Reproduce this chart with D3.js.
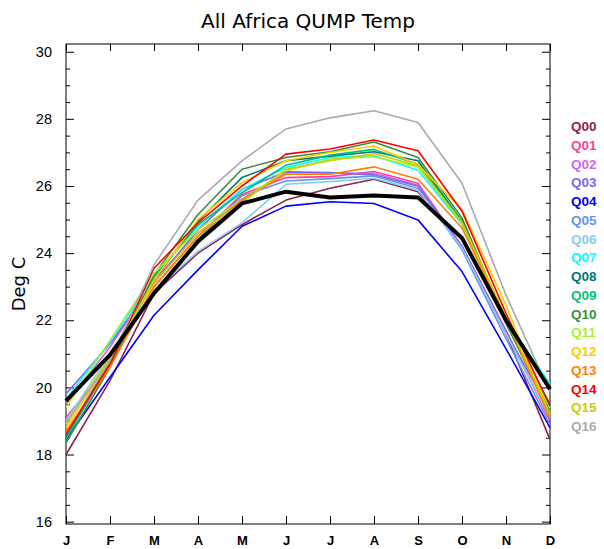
<!DOCTYPE html>
<html><head><meta charset="utf-8">
<script src="https://cdn.jsdelivr.net/npm/d3@7"></script>
<style>body{margin:0;background:#fff;} svg{display:block;}</style>
</head><body>
<script>
const months = ["J","F","M","A","M","J","J","A","S","O","N","D"];
const seriesNames = ["Q00","Q01","Q02","Q03","Q04","Q05","Q06","Q07","Q08","Q09","Q10","Q11","Q12","Q13","Q14","Q15","Q16"];
const seriesColors = ["#8B2252","#FF3E96","#CC66EE","#7B68EE","#0000FF","#6495ED","#87CEEB","#00FFFF","#007878","#00C080","#3A8E3A","#ADEE2F","#FFCC00","#FF7F00","#FF0000","#CCCC00","#AAAAAA"];
const Q00 = [18.0, 20.2, 22.8, 24.0, 24.85, 25.58, 25.93, 26.2, 25.83, 24.2, 21.6, 18.45];
const Q01 = [19.1, 20.7, 23.0, 24.5, 25.75, 26.25, 26.28, 26.43, 26.08, 24.2, 21.7, 19.0];
const Q02 = [19.5, 21.2, 23.2, 24.6, 25.55, 26.4, 26.38, 26.38, 26.02, 24.15, 21.6, 19.1];
const Q03 = [19.8, 21.3, 23.1, 24.7, 25.9, 26.42, 26.4, 26.33, 26.0, 24.2, 21.65, 19.3];
const Q04 = [18.45, 20.3, 22.15, 23.5, 24.8, 25.4, 25.53, 25.48, 24.99, 23.45, 21.15, 18.8];
const Q05 = [18.6, 20.8, 22.8, 24.4, 25.7, 26.15, 26.22, 26.3, 25.93, 24.1, 21.45, 18.9];
const Q06 = [19.0, 21.0, 22.9, 24.05, 24.9, 26.05, 26.13, 26.23, 25.87, 24.15, 21.6, 19.1];
const Q07 = [19.65, 21.35, 23.3, 24.8, 25.9, 26.55, 26.85, 26.9, 26.47, 24.85, 22.0, 20.1];
const Q08 = [18.5, 20.7, 23.2, 24.95, 26.25, 26.75, 26.89, 27.02, 26.75, 24.95, 21.9, 19.5];
const Q09 = [18.45, 20.8, 23.3, 24.85, 25.8, 26.62, 26.92, 27.09, 26.65, 24.95, 21.9, 19.3];
const Q10 = [18.35, 20.6, 23.35, 25.15, 26.5, 26.85, 27.02, 27.31, 26.85, 25.05, 21.95, 19.2];
const Q11 = [19.4, 21.4, 23.4, 24.7, 25.6, 26.45, 26.8, 26.87, 26.57, 24.9, 22.0, 19.4];
const Q12 = [18.8, 20.8, 23.2, 25.0, 26.1, 26.75, 27.0, 27.19, 26.63, 25.3, 22.45, 19.15];
const Q13 = [18.7, 20.6, 23.0, 24.5, 25.6, 26.35, 26.35, 26.57, 26.2, 24.75, 22.05, 19.1];
const Q14 = [18.6, 20.7, 23.55, 24.9, 26.0, 26.95, 27.1, 27.37, 27.05, 25.25, 22.2, 19.45];
const Q15 = [18.9, 20.9, 23.1, 24.6, 25.5, 26.5, 26.75, 26.97, 26.6, 24.9, 22.1, 19.2];
const Q16 = [18.95, 20.8, 23.65, 25.58, 26.75, 27.7, 28.03, 28.24, 27.89, 26.08, 22.75, 19.85];
const meanSeries = [19.6, 20.97, 22.8, 24.35, 25.48, 25.83, 25.66, 25.72, 25.66, 24.45, 22.0, 19.95];
const yMajorTicks = [16,18,20,22,24,26,28,30];
const titleText = "All Africa QUMP Temp";
const yLabelText = "Deg C";

const seriesValues = [Q00,Q01,Q02,Q03,Q04,Q05,Q06,Q07,Q08,Q09,Q10,Q11,Q12,Q13,Q14,Q15,Q16];

const W = 604, H = 549;
const L = 66, R = 550, T = 44, B = 524;
const font = "'Liberation Sans', Arial, sans-serif";
const font2 = "'DejaVu Sans', sans-serif";

const svg = d3.select("body").append("svg").attr("width", W).attr("height", H);

const x = d3.scaleLinear().domain([0, 11]).range([L, R]);
const y = d3.scaleLinear().domain([15.93, 30.23]).range([B, T]);

// frame
svg.append("rect").attr("x", L).attr("y", T).attr("width", R - L).attr("height", B - T)
  .attr("fill", "none").attr("stroke", "#000").attr("stroke-width", 1);

// x axes (bottom + top ticks)
const xb = d3.axisBottom(x).tickValues(d3.range(12)).tickSize(-8).tickFormat(i => months[i]).tickPadding(12);
const gxb = svg.append("g").attr("transform", `translate(0,${B})`).call(xb);
gxb.select(".domain").remove();
gxb.selectAll("text").attr("font-family", font).attr("font-size", 13).attr("font-weight", "bold").attr("fill", "#000");
const xt = d3.axisTop(x).tickValues(d3.range(12)).tickSize(-7).tickFormat("");
const gxt = svg.append("g").attr("transform", `translate(0,${T})`).call(xt);
gxt.select(".domain").remove();

// y axes
const minorTicks = d3.range(16, 30.01, 0.5).filter(v => !yMajorTicks.includes(v));
const yl = d3.axisLeft(y).tickValues(yMajorTicks).tickSize(-8).tickPadding(14).tickFormat(d3.format("d"));
const gyl = svg.append("g").attr("transform", `translate(${L},0)`).call(yl);
gyl.select(".domain").remove();
gyl.selectAll("text").attr("font-family", font).attr("font-size", 14.5).attr("fill", "#000");
const ylm = d3.axisLeft(y).tickValues(minorTicks).tickSize(-4).tickFormat("");
const gylm = svg.append("g").attr("transform", `translate(${L},0)`).call(ylm);
gylm.select(".domain").remove();
const yr = d3.axisRight(y).tickValues(yMajorTicks).tickSize(-8).tickFormat("");
const gyr = svg.append("g").attr("transform", `translate(${R},0)`).call(yr);
gyr.select(".domain").remove();
const yrm = d3.axisRight(y).tickValues(minorTicks).tickSize(-4).tickFormat("");
const gyrm = svg.append("g").attr("transform", `translate(${R},0)`).call(yrm);
gyrm.select(".domain").remove();
svg.selectAll(".tick line").attr("stroke", "#000");

// lines
const line = d3.line().x((d, i) => x(i)).y(d => y(d));
const gLines = svg.append("g");
seriesValues.forEach((vals, k) => {
  gLines.append("path").datum(vals).attr("d", line)
    .attr("fill", "none").attr("stroke", seriesColors[k]).attr("stroke-width", 1.6)
    .attr("stroke-linejoin", "round");
});
gLines.append("path").datum(meanSeries).attr("d", line)
  .attr("fill", "none").attr("stroke", "#000").attr("stroke-width", 4)
  .attr("stroke-linejoin", "round");

// legend
const lg = svg.append("g");
seriesNames.forEach((n, k) => {
  lg.append("text").attr("x", 571).attr("y", 131 + k * 18.75)
    .attr("font-family", font).attr("font-size", 13.5).attr("font-weight", "bold")
    .attr("fill", seriesColors[k]).text(n);
});

// title
svg.append("text").attr("x", 308).attr("y", 28).attr("text-anchor", "middle")
  .attr("font-family", font2).attr("font-size", 20).attr("fill", "#000").text(titleText);

// y label
svg.append("text").attr("transform", `translate(25,${(T + B) / 2}) rotate(-90)`)
  .attr("text-anchor", "middle").attr("font-family", font2).attr("font-size", 18)
  .attr("fill", "#000").text(yLabelText);
</script>
</body></html>
